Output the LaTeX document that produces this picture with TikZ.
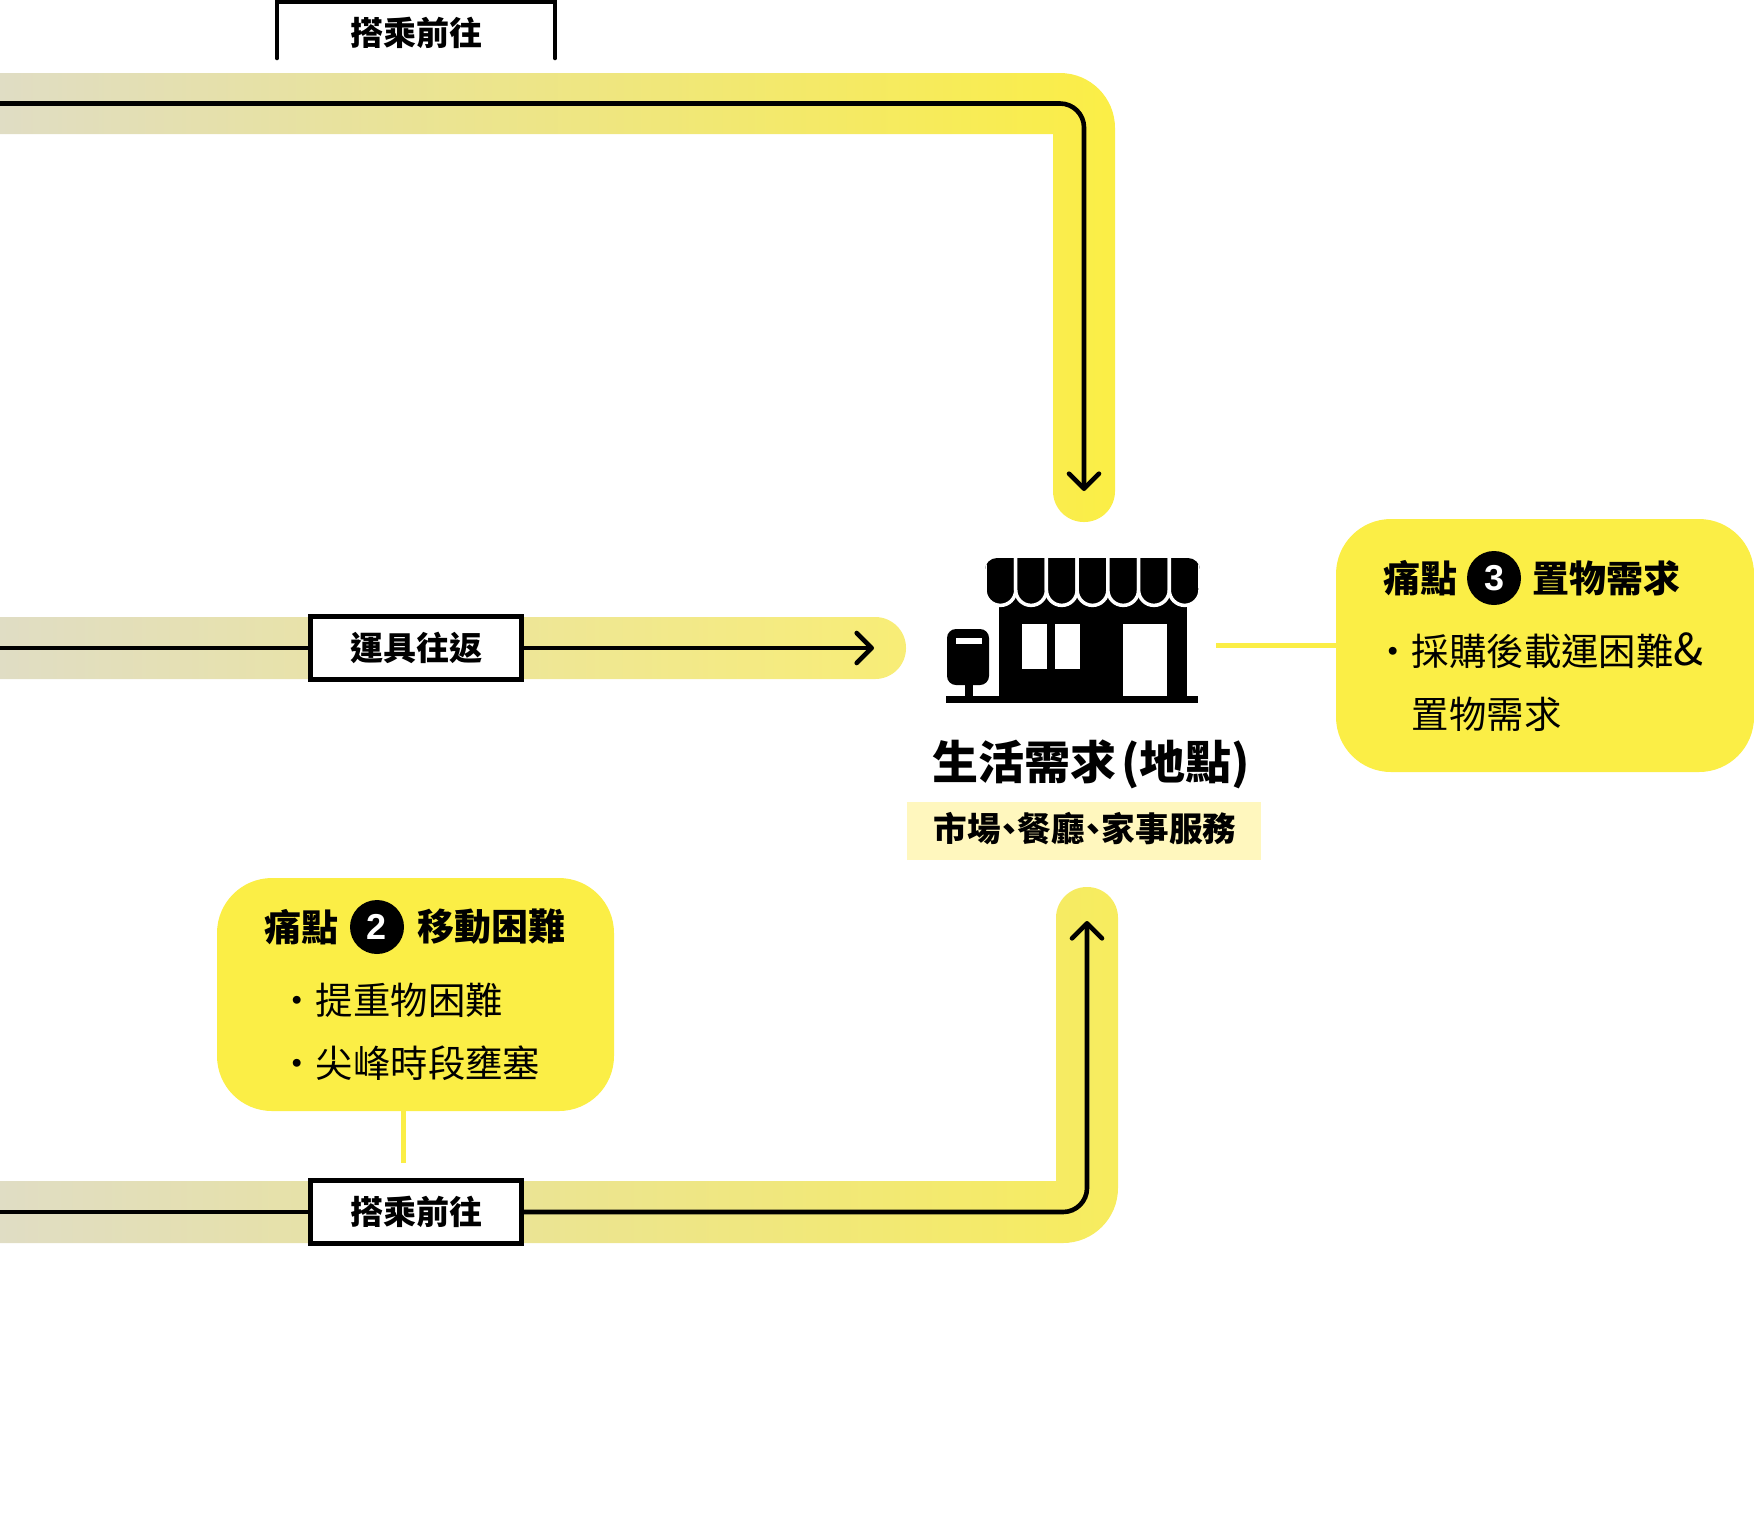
\documentclass[tikz,border=0pt]{standalone}
\usepackage{fontspec}
\usetikzlibrary{arrows.meta}
\newfontfamily\cjk{Noto Sans CJK TC}
\newfontfamily\cjkp[RawFeature=+palt]{Noto Sans CJK TC}
\newfontfamily\numfont{Liberation Sans}
\definecolor{painy}{HTML}{FBEE46}
\definecolor{paley}{HTML}{FFF7BE}
\definecolor{grayy}{HTML}{E0DDC4}
\definecolor{midend}{HTML}{F8ED76}
\definecolor{botend}{HTML}{F7EC5E}
\tikzset{
  x=0.5pt,y=-0.5pt,
  painbox/.style={fill=painy,rounded corners=27.5pt,inner sep=0pt},
  labelbox/.style={draw=black,fill=white,line width=2.2pt,minimum width=105.5pt,minimum height=31.5pt,inner sep=0pt,font=\cjk\bfseries\fontsize{16.5}{20}\selectfont},
  labeltext/.style={inner sep=0pt,font=\cjk\bfseries\fontsize{16.5}{20}\selectfont},
  paintitle/.style={inner sep=0pt,font=\cjk\bfseries\fontsize{18.5}{22}\selectfont},
  painnum/.style={circle,fill=black,text=white,minimum size=27pt,inner sep=0pt,font=\numfont\bfseries\fontsize{18}{22}\selectfont},
  painlist/.style={inner sep=0pt,anchor=west,align=left,font=\cjk\fontsize{18.7}{31.75}\selectfont},
  flow/.style={draw=black,line width=2.3pt},
  flowtip/.style={flow,line cap=round,-{Straight Barb[length=7.5pt,width=15pt,line cap=round,round]}},
  tie/.style={draw=painy,line width=2.5pt}
}
\begin{document}
\begin{tikzpicture}
\useasboundingbox (0,0) rectangle (1754,1528);
\clip (0,0) rectangle (1754,1528);
% bands
\shade[left color=grayy,middle color=painy!50!grayy,right color=painy]
  (0,73) [rounded corners=27.5pt] -- (1115,73) [rounded corners=15.4pt] -- (1115,522) -- (1053,522) [sharp corners] -- (1053,134) -- (0,134) -- cycle;
\shade[left color=grayy,right color=midend]
  (0,617) [rounded corners=15.4pt] -- (906,617) -- (906,679) [sharp corners] -- (0,679) -- cycle;
\shade[left color=grayy,middle color=painy!40!grayy,right color=botend]
  (0,1181) -- (1056,1181) [rounded corners=15.4pt] -- (1056,887) -- (1118,887) [rounded corners=27.5pt] -- (1118,1243) [sharp corners] -- (0,1243) -- cycle;
% label boxes
\node[labelbox] (lbB) at (416,648) {運具往返};
\node[labelbox] (lbC) at (416,1212) {搭乘前往};
\node[labeltext] (lbA) at (416,33) {搭乘前往};
\coordinate (aL) at (277,58);
\coordinate (aLt) at (277,2);
\coordinate (aRt) at (555,2);
\coordinate (aR) at (555,58);
\draw[flow,line cap=round] (aL) -- (aLt) -- (aRt) -- (aR);
% connectors
\coordinate (p1s) at (0,103.5);
\coordinate (p1c) at (1084,103.5);
\coordinate (p1e) at (1084,491);
\draw[flowtip,rounded corners=12pt] (p1s) -- (p1c) -- (p1e);
\coordinate (p2s) at (0,648);
\coordinate (p2e) at (874,648);
\draw[flow] (p2s) -- (lbB.west);
\draw[flowtip] (lbB.east) -- (p2e);
\coordinate (p3s) at (0,1212);
\coordinate (p3c) at (1087,1212);
\coordinate (p3e) at (1087,921);
\draw[flow] (p3s) -- (lbC.west);
\draw[flowtip,rounded corners=12pt] (lbC.east) -- (p3c) -- (p3e);
% shop icon
\fill (999,590) rectangle (1187,700);
\fill (946,696) rectangle (1198,703);
\begin{scope}
\clip[rounded corners=6pt] (985,558) rectangle (1200,640);
\foreach \i in {0,...,6}{
  \pgfmathsetmacro{\xz}{985+\i*30.71}
  \fill[black,draw=white,line width=1.75pt] (\xz,530) -- (\xz,590) arc[start angle=180,end angle=360,radius=7.68pt] -- (\xz+30.71,530) -- cycle;
}
\end{scope}
\fill[white] (1022,624) rectangle (1047,669);
\fill[white] (1055,624) rectangle (1080,669);
\fill[white] (1123,624) rectangle (1167,696);
\fill[black,rounded corners=4.5pt] (947,629) rectangle (989,685);
\fill[white] (956,638) rectangle (982,644);
\fill (965,684) rectangle (973,697);
% title
\node[inner sep=0pt,font=\cjkp\bfseries\fontsize{23}{28}\selectfont] (title) at (1091,764) {生活需求\hspace{2.5pt}(地點)};
\node[fill=paley,minimum width=177pt,minimum height=29pt,inner sep=0pt] (sub) at (1084,831) {};
\node[inner sep=0pt,font=\cjkp\bfseries\fontsize{16.8}{20}\selectfont] (subt) at (1085,829) {市場、餐廳、家事服務};
% pain 3
\node[painbox,minimum width=209pt,minimum height=126.5pt] (box3) at (1545,645.5) {};
\coordinate (t3) at (1216,645.5);
\draw[tie] (t3) -- (box3.west);
\node[paintitle] (p3a) at (1420,578) {痛點};
\node[painnum] (n3) at (1494,578) {3};
\node[paintitle] (p3b) at (1606,578) {置物需求};
\node[painlist] (l3) at (1374,682) {・採購後載運困難{\fontsize{22}{31.75}\selectfont\&}\\\hspace{18.7pt}置物需求};
% pain 2
\node[painbox,minimum width=198.5pt,minimum height=116.5pt] (box2) at (415.5,994.5) {};
\coordinate (t2) at (403,1163);
\draw[tie] (t2) -- (403,1111);
\node[paintitle] (p2a) at (301.5,927) {痛點};
\node[painnum] (n2) at (377,927) {2};
\node[paintitle] (p2b) at (491,927) {移動困難};
\node[painlist] (l2) at (278,1032) {・提重物困難\\・尖峰時段壅塞};
\end{tikzpicture}
\end{document}
